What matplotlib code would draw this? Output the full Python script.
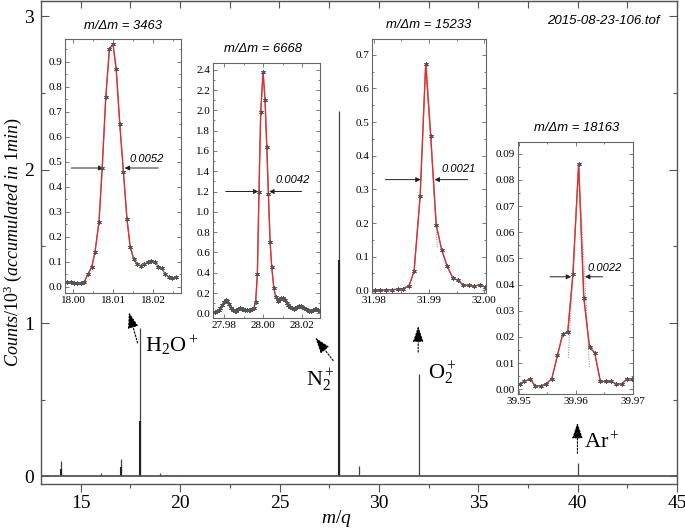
import matplotlib
matplotlib.use('Agg')
import matplotlib.pyplot as plt
from matplotlib.ticker import MultipleLocator

plt.rcParams['font.family'] = ['Liberation Serif', 'DejaVu Serif']
plt.rcParams['mathtext.fontset'] = 'custom'
plt.rcParams['mathtext.rm'] = 'Liberation Serif'
plt.rcParams['mathtext.it'] = 'Liberation Serif:italic'

# ---------------- main spectrum ----------------
peak_mq = [14.0, 16.0, 17.0, 18.0, 19.0, 20.0, 28.0, 29.0, 32.0, 40.0]
peak_height = [0.10, 0.02, 0.11, 0.97, 0.02, 0.01, 2.38, 0.065, 0.67, 0.087]
shoulder_mq = [14.0, 17.0, 18.0, 28.0]
shoulder_height = [0.05, 0.06, 0.36, 1.41]

ion_labels = [r'H$_2$O$^+$', r'N$_2^+$', r'O$_2^+$', r'Ar$^+$']
file_label = '2015-08-23-106.tof'

# ---------------- inset data ----------------
h2o_x = [17.9985, 17.9995, 18.0002, 18.0011, 18.0020, 18.0028, 18.0037, 18.0047,
         18.0055, 18.0065, 18.0073, 18.0082, 18.0091, 18.0100, 18.0108, 18.0117,
         18.0126, 18.0135, 18.0143, 18.0152, 18.0161, 18.0170, 18.0178, 18.0187,
         18.0196, 18.0205, 18.0213, 18.0222, 18.0231, 18.0240, 18.0248, 18.0257]
h2o_y = [0.02, 0.02, 0.015, 0.015, 0.015, 0.02, 0.05, 0.08,
         0.14, 0.26, 0.475, 0.76, 0.95, 0.97, 0.87, 0.65,
         0.46, 0.27, 0.16, 0.11, 0.09, 0.085, 0.09, 0.10,
         0.105, 0.10, 0.08, 0.075, 0.05, 0.04, 0.035, 0.04]

n2_x = [27.9746, 27.9755, 27.9764, 27.9773, 27.9782, 27.9791, 27.9800, 27.9809,
        27.9818, 27.9827, 27.9836, 27.9845, 27.9854, 27.9863, 27.9872, 27.9881,
        27.9890, 27.9899, 27.9908, 27.9917, 27.9926, 27.9935, 27.9944, 27.9953,
        27.9962, 27.9971, 27.9979, 27.9988, 28.0000, 28.0010, 28.0019, 28.0027,
        28.0036, 28.0044, 28.0055, 28.0065, 28.0075, 28.0084, 28.0093, 28.0102,
        28.0111, 28.0120, 28.0129, 28.0138, 28.0147, 28.0156, 28.0165, 28.0174,
        28.0183, 28.0192, 28.0201, 28.0210, 28.0219, 28.0228, 28.0237, 28.0246,
        28.0255, 28.0264, 28.0273, 28.0282, 28.0291]
n2_y = [0.01, 0.01, 0.02, 0.03, 0.05, 0.08, 0.11, 0.13,
        0.12, 0.09, 0.05, 0.03, 0.02, 0.02, 0.04, 0.05,
        0.04, 0.04, 0.03, 0.03, 0.03, 0.03, 0.04, 0.05,
        0.115, 0.39, 1.20, 1.98, 2.38, 2.10, 1.64, 1.18,
        0.70, 0.46, 0.25, 0.16, 0.125, 0.14, 0.15, 0.15,
        0.13, 0.10, 0.08, 0.06, 0.05, 0.04, 0.05, 0.06,
        0.07, 0.07, 0.06, 0.05, 0.04, 0.03, 0.02, 0.02,
        0.03, 0.04, 0.04, 0.03, 0.02]

o2_x = [31.9803, 31.9812, 31.9823, 31.9833, 31.9844, 31.9853, 31.9864, 31.9873,
        31.9884, 31.9894, 31.9903, 31.9913, 31.9923, 31.9933, 31.9943, 31.9952,
        31.9962, 31.9972, 31.9982, 31.9992, 32.0001]
o2_y = [0.002, 0.0, 0.001, 0.002, 0.003, 0.004, 0.014, 0.056,
        0.28, 0.673, 0.46, 0.195, 0.12, 0.071, 0.037, 0.03,
        0.016, 0.015, 0.012, 0.017, 0.01]
o2_fit_x = [31.9896, 31.9915]
o2_fit_y = [0.675, 0.126]

ar_x = [39.9502, 39.9510, 39.9520, 39.9529, 39.9539, 39.9548, 39.9558, 39.9568,
        39.9577, 39.9586, 39.9595, 39.9605, 39.9614, 39.9624, 39.9633, 39.9643,
        39.9652, 39.9662, 39.9671, 39.9680, 39.9690, 39.9698]
ar_y = [0.002, 0.003, 0.004, 0.0013, 0.0013, 0.002, 0.004, 0.013,
        0.021, 0.022, 0.044, 0.086, 0.035, 0.016, 0.014, 0.003,
        0.003, 0.003, 0.002, 0.002, 0.004, 0.004]
ar_fit_x = [39.9587, 39.9605, 39.9624]
ar_fit_y = [0.012, 0.086, 0.008]

resolving_power = [3463, 6668, 15233, 18163]
fwhm_text = ['0.0052', '0.0042', '0.0021', '0.0022']

# ---------------- figure ----------------
W, H = 685, 529
fig = plt.figure(figsize=(W / 100, H / 100), dpi=100)
ax = fig.add_axes([41 / W, 45 / H, 636 / W, 483 / H])

spine_col = '#555555'
line_col = '#444444'

ax.vlines(peak_mq, 0, peak_height, color=line_col, lw=0.9)
ax.vlines(shoulder_mq, 0, shoulder_height, color='#222222', lw=1.5)
ax.axhline(0, color=spine_col, lw=1.3)

ax.set_xlim(13, 45)
ax.set_ylim(-0.05, 3.1)
ax.xaxis.set_major_locator(MultipleLocator(5))
ax.xaxis.set_minor_locator(MultipleLocator(2.5))
ax.yaxis.set_major_locator(MultipleLocator(1))
ax.yaxis.set_minor_locator(MultipleLocator(0.5))
ax.set_xticks([15, 20, 25, 30, 35, 40, 45])
ax.tick_params(axis='x', which='major', direction='out', length=6, width=0.8,
               color=spine_col, labelsize=14, pad=2)
ax.tick_params(axis='x', which='minor', direction='out', length=3, width=0.8,
               color=spine_col)
ax.tick_params(axis='y', which='major', direction='in', length=6, width=0.8,
               color=spine_col, labelsize=14, left=True, right=True, pad=5)
ax.tick_params(axis='y', which='minor', direction='in', length=3, width=0.8,
               color=spine_col, left=True, right=True)
for s in ax.spines.values():
    s.set_color(spine_col)
    s.set_linewidth(1.0)

sec = ax.secondary_xaxis('top')
sec.xaxis.set_major_locator(MultipleLocator(2.5))
sec.tick_params(axis='x', which='major', direction='in', length=5, width=0.8,
                color=spine_col, labeltop=False)
sec.spines['top'].set_color(spine_col)

ax.set_xlabel(r'$m/q$', fontsize=14)
ax.xaxis.set_label_coords(0.464, -0.071)
ax.xaxis.label.set_va('center')
ax.set_ylabel(r'$Counts/10^3$ $(accumulated$ $in$ $1min)$', fontsize=13, labelpad=0)

ax.text(0.973, 0.958, file_label, transform=ax.transAxes, ha='right', va='center',
        fontsize=9.5, style='italic', family='Liberation Sans')

# ion labels and arrows
ax.text(18.25, 0.81, ion_labels[0], fontsize=16)
ax.text(26.35, 0.59, ion_labels[1], fontsize=16)
ax.text(32.45, 0.64, ion_labels[2], fontsize=16)
ax.text(40.3, 0.18, ion_labels[3], fontsize=16)
arrow_kw = dict(arrowstyle='-|>,head_length=0.6,head_width=0.2',
                linestyle=(0, (1.5, 1.5)), color='k', lw=0.8,
                mutation_scale=16, shrinkA=0, shrinkB=0)
ax.annotate('', xy=(17.42, 1.07), xytext=(17.86, 0.87), arrowprops=arrow_kw)
ax.annotate('', xy=(26.8, 0.905), xytext=(27.7, 0.755), arrowprops=arrow_kw)
ax.annotate('', xy=(31.98, 0.98), xytext=(31.98, 0.81), arrowprops=arrow_kw)
ax.annotate('', xy=(39.99, 0.35), xytext=(39.99, 0.15), arrowprops=arrow_kw)

# ---------------- insets ----------------
def px_box(x0, y0, x1, y1):
    return [x0 / W, 1 - y1 / H, (x1 - x0) / W, (y1 - y0) / H]

def make_inset(box, xs, ys, xlim, ylim, xticks, ymaj, ymin_step, yfmt,
               red_range, title, title_xy, arrow_y, larrow, rarrow, txt, txt_xy,
               fit=None):
    a = fig.add_axes(px_box(*box))
    a.plot(xs, ys, color='#777777', lw=1.0, zorder=2)
    rx = [x for x in xs if red_range[0] <= x <= red_range[1]]
    ry = [y for x, y in zip(xs, ys) if red_range[0] <= x <= red_range[1]]
    if fit is not None:
        a.plot(fit[0], fit[1], color='#999999', lw=0.8, ls=(0, (1, 1.2)), zorder=2)
    a.plot(rx, ry, color='#ff2020', lw=0.8, zorder=3)
    a.plot(xs, ys, ls='none', marker=(6, 2, 0), ms=3.2, mew=0.7,
           color='#555555', zorder=4)
    a.set_xlim(*xlim)
    a.set_ylim(*ylim)
    a.set_xticks(xticks)
    a.set_xticklabels(['%.2f' % v for v in xticks])
    a.xaxis.set_minor_locator(MultipleLocator((xticks[1] - xticks[0]) / 2))
    a.yaxis.set_major_locator(MultipleLocator(ymaj))
    a.yaxis.set_minor_locator(MultipleLocator(ymin_step))
    a.yaxis.set_major_formatter(plt.FormatStrFormatter(yfmt))
    a.tick_params(which='both', direction='in', top=True, right=True,
                  color='#666666', width=0.6, labelsize=8, pad=2)
    a.tick_params(which='major', length=3)
    a.tick_params(which='minor', length=1.5)
    for s in a.spines.values():
        s.set_color('#666666')
        s.set_linewidth(0.8)
    fig.text(title_xy[0] / W, 1 - title_xy[1] / H, title, ha='center', va='center',
             fontsize=9.4, style='italic', family='Liberation Sans')
    akw = dict(arrowstyle='-|>', color='#222222', lw=0.7, mutation_scale=7,
               shrinkA=0, shrinkB=0)
    a.annotate('', xy=(larrow[1], arrow_y), xytext=(larrow[0], arrow_y), arrowprops=akw)
    a.annotate('', xy=(rarrow[1], arrow_y), xytext=(rarrow[0], arrow_y), arrowprops=akw)
    a.text(txt_xy[0], txt_xy[1], txt, fontsize=8, style='italic',
           family='Liberation Sans', ha='left', va='bottom')
    return a

make_inset((65, 39, 181, 293), h2o_x, h2o_y, (17.998, 18.027), (-0.024, 0.99),
           [18.00, 18.01, 18.02], 0.1, 0.05, '%.1f', (18.0028, 18.0161),
           'm/Δm = %d' % resolving_power[0], (123, 26), 0.475,
           (17.9996, 18.0076), (18.0213, 18.0129), fwhm_text[0], (18.0141, 0.49))

make_inset((213, 63, 320, 318), n2_x, n2_y, (27.9744, 28.0291), (-0.046, 2.466),
           [27.98, 28.00, 28.02], 0.2, 0.1, '%.1f', (27.9953, 28.0093),
           'm/Δm = %d' % resolving_power[1], (263, 49), 1.2,
           (27.9809, 27.9976), (28.0197, 28.0031), fwhm_text[1], (28.0063, 1.26))

make_inset((372, 39, 486, 293), o2_x, o2_y, (31.9797, 32.0003), (-0.008, 0.747),
           [31.98, 31.99, 32.00], 0.1, 0.05, '%.1f', (31.97, 32.01),
           'm/Δm = %d' % resolving_power[2], (429, 25), 0.329,
           (31.9821, 31.9885), (31.9970, 31.9910), fwhm_text[2], (31.9922, 0.345),
           fit=(o2_fit_x, o2_fit_y))

make_inset((518, 142, 633, 394), ar_x, ar_y, (39.9499, 39.9699), (-0.0018, 0.0945),
           [39.95, 39.96, 39.97], 0.01, 0.005, '%.2f', (39.94, 39.98),
           'm/Δm = %d' % resolving_power[3], (577, 128), 0.043,
           (39.9555, 39.9592), (39.9647, 39.9616), fwhm_text[3], (39.9621, 0.0445),
           fit=(ar_fit_x, ar_fit_y))

fig.savefig('out.png', dpi=100)
